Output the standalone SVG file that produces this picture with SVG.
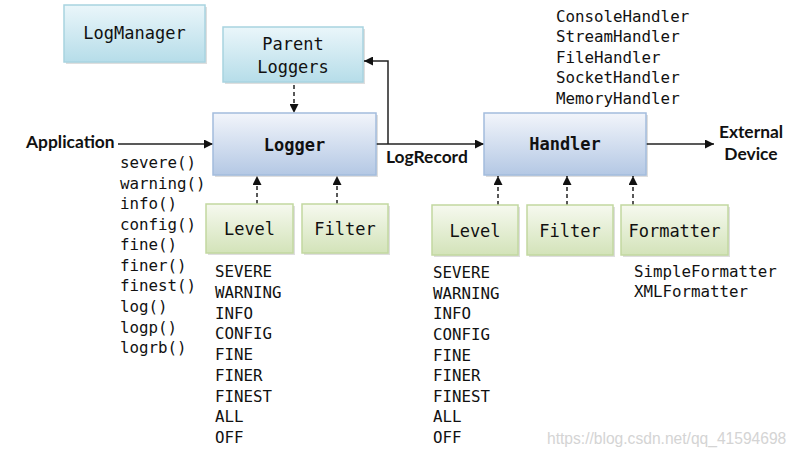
<svg xmlns="http://www.w3.org/2000/svg" width="799" height="456" viewBox="0 0 799 456">
<defs>
  <linearGradient id="gCyan" x1="0" y1="0" x2="0" y2="1">
    <stop offset="0" stop-color="#eaf6fa"/>
    <stop offset="1" stop-color="#b6dde9"/>
  </linearGradient>
  <linearGradient id="gBlue" x1="0" y1="0" x2="0" y2="1">
    <stop offset="0" stop-color="#f2f5fb"/>
    <stop offset="1" stop-color="#b4c8e4"/>
  </linearGradient>
  <linearGradient id="gGreen" x1="0" y1="0" x2="0" y2="1">
    <stop offset="0" stop-color="#f6f9ef"/>
    <stop offset="1" stop-color="#d3e3b9"/>
  </linearGradient>
  <marker id="ah" viewBox="0 0 10 10" refX="10" refY="5" markerWidth="9" markerHeight="9" markerUnits="userSpaceOnUse" orient="auto">
    <path d="M0,0 L10,5 L0,10 z" fill="#111"/>
  </marker>
</defs>
<style>
  .shadow { fill: #000; opacity: 0.13; }
  .cyan { fill: url(#gCyan); stroke: #a8d3e0; stroke-width: 1.5; }
  .blue { fill: url(#gBlue); stroke: #a3bcdd; stroke-width: 1.5; }
  .green { fill: url(#gGreen); stroke: #c2d8a0; stroke-width: 1.5; }
  .lbl { font-family: "DejaVu Sans Mono", "Liberation Mono", monospace; font-size: 17px; fill: #111; text-anchor: middle; }
  .lblb { font-family: "DejaVu Sans Mono", "Liberation Mono", monospace; font-size: 17px; font-weight: bold; fill: #111; text-anchor: middle; }
  .list { font-family: "DejaVu Sans Mono", "Liberation Mono", monospace; font-size: 15.8px; fill: #111; }
  .bold { font-family: Lato, "Liberation Sans", sans-serif; font-size: 17.4px; font-weight: bold; fill: #111; }
  .conn { stroke: #222; stroke-width: 1.5; fill: none; }
  .dash { stroke: #222; stroke-width: 1.5; fill: none; stroke-dasharray: 4 3; }
  .wm { font-family: "Liberation Sans", Arial, sans-serif; font-size: 15.6px; fill: #d4d4d4; }
</style>

<g id="connectors">
  <line class="conn" x1="118" y1="144" x2="213" y2="144" marker-end="url(#ah)"/>
  <line class="conn" x1="376" y1="144" x2="484" y2="144" marker-end="url(#ah)"/>
  <polyline class="conn" points="388,144 388,61 364,61" marker-end="url(#ah)"/>
  <line class="conn" x1="646" y1="144" x2="714" y2="144" marker-end="url(#ah)"/>
  <line class="dash" x1="294" y1="85" x2="294" y2="113" marker-end="url(#ah)"/>
  <line class="dash" x1="257" y1="204" x2="257" y2="176" marker-end="url(#ah)"/>
  <line class="dash" x1="337" y1="204" x2="337" y2="176" marker-end="url(#ah)"/>
  <line class="dash" x1="498" y1="205" x2="498" y2="176" marker-end="url(#ah)"/>
  <line class="dash" x1="567" y1="205" x2="567" y2="176" marker-end="url(#ah)"/>
  <line class="dash" x1="633" y1="205" x2="633" y2="176" marker-end="url(#ah)"/>
</g>

<g id="logmanager">
  <rect class="shadow" x="66" y="7" width="141" height="57"/>
  <rect class="cyan" x="64" y="5" width="141" height="57"/>
  <text class="lbl" x="134.5" y="39">LogManager</text>
</g>

<g id="parent-loggers">
  <rect class="shadow" x="225" y="29" width="140" height="55"/>
  <rect class="cyan" x="223" y="27" width="140" height="55"/>
  <text class="lbl" x="293" y="50">Parent</text>
  <text class="lbl" x="293" y="73">Loggers</text>
</g>

<g id="logger">
  <rect class="shadow" x="215" y="115" width="163" height="62"/>
  <rect class="blue" x="213" y="113" width="163" height="62"/>
  <text class="lblb" x="294.5" y="151">Logger</text>
</g>

<g id="handler">
  <rect class="shadow" x="486" y="115" width="162" height="62"/>
  <rect class="blue" x="484" y="113" width="162" height="62"/>
  <text class="lblb" x="565" y="150">Handler</text>
</g>

<g id="logger-level">
  <rect class="shadow" x="208" y="206" width="87" height="49"/>
  <rect class="green" x="206" y="204" width="87" height="49"/>
  <text class="lbl" x="249.5" y="235">Level</text>
</g>

<g id="logger-filter">
  <rect class="shadow" x="304" y="206" width="86" height="49"/>
  <rect class="green" x="302" y="204" width="86" height="49"/>
  <text class="lbl" x="345" y="235">Filter</text>
</g>

<g id="handler-level">
  <rect class="shadow" x="434" y="207" width="86" height="50"/>
  <rect class="green" x="432" y="205" width="86" height="50"/>
  <text class="lbl" x="475" y="237">Level</text>
</g>

<g id="handler-filter">
  <rect class="shadow" x="529" y="207" width="86" height="50"/>
  <rect class="green" x="527" y="205" width="86" height="50"/>
  <text class="lbl" x="570" y="237">Filter</text>
</g>

<g id="formatter">
  <rect class="shadow" x="623" y="207" width="107" height="50"/>
  <rect class="green" x="621" y="205" width="107" height="50"/>
  <text class="lbl" x="674.5" y="237">Formatter</text>
</g>

<g id="labels">
  <text class="bold" x="26" y="148">Application</text>
  <text class="bold" x="386" y="163">LogRecord</text>
  <text class="bold" x="751" y="138" text-anchor="middle">External</text>
  <text class="bold" x="751" y="160" text-anchor="middle">Device</text>
</g>

<g id="handler-types">
  <text class="list" x="556" y="21.5">ConsoleHandler</text>
  <text class="list" x="556" y="42">StreamHandler</text>
  <text class="list" x="556" y="62.5">FileHandler</text>
  <text class="list" x="556" y="83">SocketHandler</text>
  <text class="list" x="556" y="103.5">MemoryHandler</text>
</g>

<g id="methods">
  <text class="list" x="120" y="168">severe()</text>
  <text class="list" x="120" y="188.6">warning()</text>
  <text class="list" x="120" y="209.1">info()</text>
  <text class="list" x="120" y="229.7">config()</text>
  <text class="list" x="120" y="250.2">fine()</text>
  <text class="list" x="120" y="270.8">finer()</text>
  <text class="list" x="120" y="291.4">finest()</text>
  <text class="list" x="120" y="311.9">log()</text>
  <text class="list" x="120" y="332.5">logp()</text>
  <text class="list" x="120" y="353">logrb()</text>
</g>

<g id="logger-levels">
  <text class="list" x="215" y="277">SEVERE</text>
  <text class="list" x="215" y="297.8">WARNING</text>
  <text class="list" x="215" y="318.5">INFO</text>
  <text class="list" x="215" y="339.3">CONFIG</text>
  <text class="list" x="215" y="360">FINE</text>
  <text class="list" x="215" y="380.8">FINER</text>
  <text class="list" x="215" y="401.5">FINEST</text>
  <text class="list" x="215" y="422.3">ALL</text>
  <text class="list" x="215" y="443">OFF</text>
</g>

<g id="handler-levels">
  <text class="list" x="433" y="278">SEVERE</text>
  <text class="list" x="433" y="298.6">WARNING</text>
  <text class="list" x="433" y="319.3">INFO</text>
  <text class="list" x="433" y="339.9">CONFIG</text>
  <text class="list" x="433" y="360.5">FINE</text>
  <text class="list" x="433" y="381.1">FINER</text>
  <text class="list" x="433" y="401.8">FINEST</text>
  <text class="list" x="433" y="422.4">ALL</text>
  <text class="list" x="433" y="443">OFF</text>
</g>

<g id="formatter-types">
  <text class="list" x="634" y="277">SimpleFormatter</text>
  <text class="list" x="634" y="297">XMLFormatter</text>
</g>

<text class="wm" x="547" y="444">https://blog.csdn.net/qq_41594698</text>
</svg>
